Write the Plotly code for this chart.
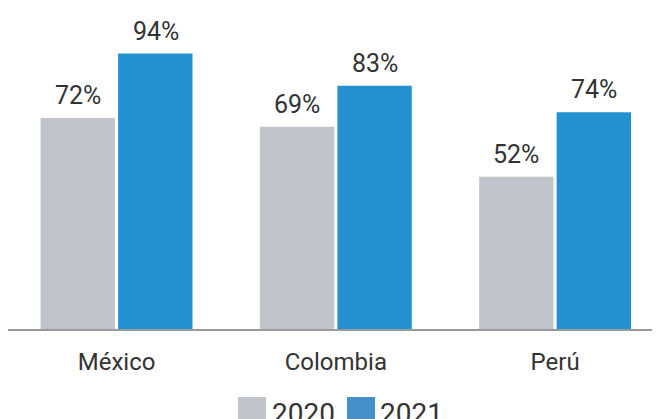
import plotly.graph_objects as go

countries = ["México", "Colombia", "Perú"]
values_2020 = [72, 69, 52]
values_2021 = [94, 83, 74]
years = ["2020", "2021"]

gray = "#c1c4cb"
blue = "#2391d0"
text_color = "#333333"
font_name = "Roboto"

fig = go.Figure()
fig.add_trace(go.Bar(x=countries, y=values_2020, name=years[0], marker_color=gray,
                     marker_line_width=0))
fig.add_trace(go.Bar(x=countries, y=values_2021, name=years[1], marker_color=blue,
                     marker_line_width=0))

# value labels above each bar
annotations = []
for vals, shift in [(values_2020, -39), (values_2021, 39)]:
    for c, v in zip(countries, vals):
        annotations.append(dict(x=c, y=v, xref="x", yref="y", text=str(v) + "%",
                                showarrow=False, xshift=shift, yanchor="bottom", yshift=6,
                                font=dict(size=25, color=text_color, family=font_name)))

# legend drawn by hand (bigger squares than plotly's own)
legend_items = [(years[0], gray, 0.3485, 0.3909, 0.3970),
                (years[1], "#4590cb", 0.5136, 0.5561, 0.5606)]
shapes = []
for label, col, x0, x1, tx in legend_items:
    shapes.append(dict(type="rect", xref="paper", yref="paper", x0=x0, x1=x1,
                       y0=-0.232, y1=-0.40, fillcolor=col, line_width=0))
    annotations.append(dict(x=tx, y=-0.225, xref="paper", yref="paper", text=label,
                            showarrow=False, xanchor="left", yanchor="top",
                            font=dict(size=28, color=text_color, family=font_name)))

# the page body adds 8px around the plot, margins take that into account
fig.update_layout(
    width=660, height=419,
    margin=dict(l=0, r=0, t=28, b=98),
    plot_bgcolor="white", paper_bgcolor="white",
    barmode="group", bargap=0.293, bargroupgap=0.04,
    showlegend=False,
    annotations=annotations, shapes=shapes,
    font=dict(family=font_name, color=text_color),
)
fig.update_xaxes(range=[-0.495, 2.515], showline=True, linecolor="#9a9a9a", linewidth=2,
                 ticks="", ticklabelstandoff=10, tickfont=dict(size=24, color=text_color),
                 showgrid=False)
fig.update_yaxes(range=[0, 100], visible=False, showgrid=False)

fig.write_html("out.html")
